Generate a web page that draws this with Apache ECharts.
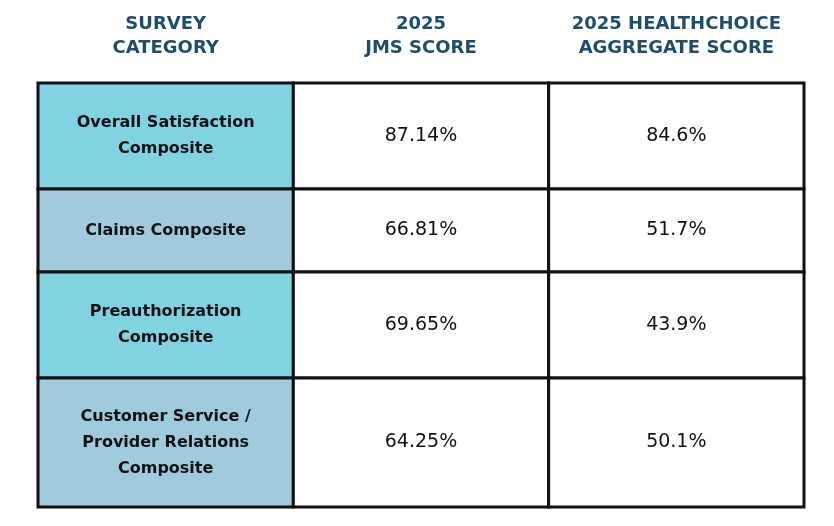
<!DOCTYPE html><html><head><meta charset="utf-8"><script src="https://cdn.jsdelivr.net/npm/echarts@6/dist/echarts.min.js"></script>
<style>html,body{margin:0;background:#fff}#c{width:834px;height:526px}</style></head><body><div id="c"></div><script>
const headers=['SURVEY\nCATEGORY','2025\nJMS SCORE','2025 HEALTHCHOICE\nAGGREGATE SCORE'];
const categories=['Overall Satisfaction\nComposite','Claims Composite','Preauthorization\nComposite','Customer Service /\nProvider Relations\nComposite'];
const jms=['87.14%','66.81%','69.65%','64.25%'];
const hc=['84.6%','51.7%','43.9%','50.1%'];
const catFills=['#82d3e1','#9fcbdc','#82d3e1','#9fcbdc'];
const data=[];let y=0;
categories.forEach((c,i)=>{const h=2.6+c.split('\n').length;
 [c,jms[i],hc[i]].forEach((t,j)=>data.push([j,y,y+h,t,j===0?catFills[i]:'#fff']));y+=h;});
const ch=echarts.init(document.getElementById('c'));
ch.setOption({animation:false,
grid:{left:38,right:30,top:83,bottom:19},
xAxis:{type:'category',data:headers,position:'top',axisLine:{show:false},axisTick:{show:false},
 axisLabel:{interval:0,margin:23,color:'#1f4e6c',fontFamily:'DejaVu Sans',fontWeight:'bold',fontSize:18,lineHeight:24}},
yAxis:{type:'value',min:0,max:y,inverse:true,show:false},
series:[{type:'custom',data:data,renderItem:(p,api)=>{
 const j=api.value(0);const a=api.coord([j,api.value(1)]),b=api.coord([j,api.value(2)]);const w=api.size([1,0])[0];
 const d=data[p.dataIndex];
 return {type:'group',children:[
 {type:'rect',shape:{x:a[0]-w/2,y:a[1],width:w,height:b[1]-a[1]},style:{fill:d[4],stroke:'#111',lineWidth:3}},
 {type:'text',style:{x:a[0],y:(a[1]+b[1])/2,text:d[3],align:'center',verticalAlign:'middle',fill:'#111',
  fontFamily:'DejaVu Sans',fontWeight:j===0?'bold':'normal',fontSize:j===0?16:19,lineHeight:j===0?26:24}}]};}}]});
</script></body></html>
